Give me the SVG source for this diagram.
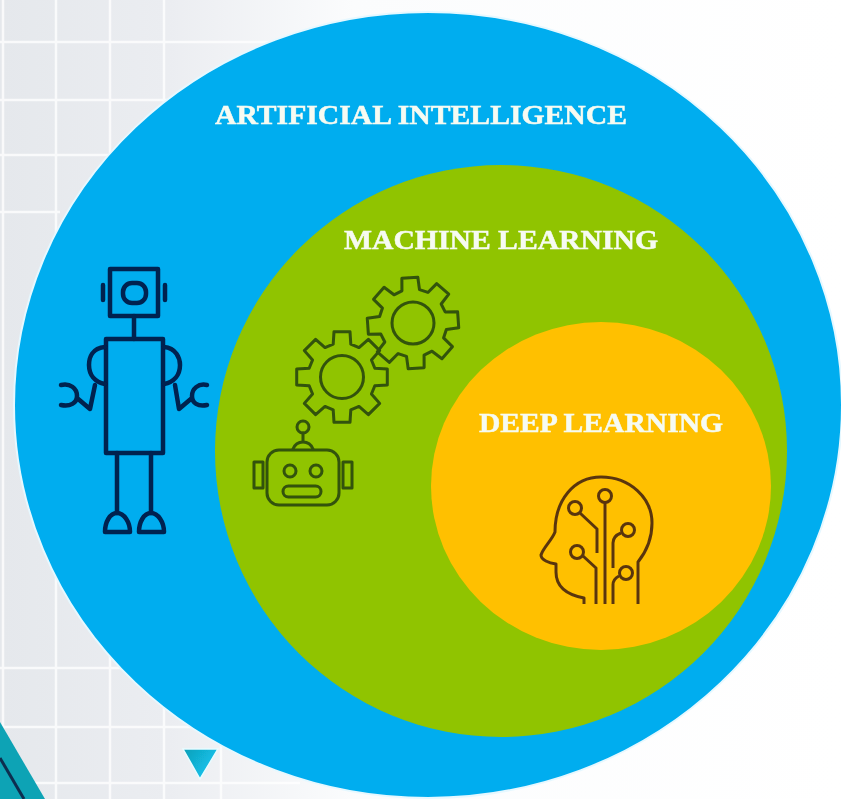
<svg xmlns="http://www.w3.org/2000/svg" xmlns:xlink="http://www.w3.org/1999/xlink" width="841" height="799" viewBox="0 0 841 799">
  <style>
    .title{font-family:"Liberation Serif","Times New Roman",serif;font-weight:700;fill:#f6fbf2;stroke:#f6fbf2;stroke-width:0.5;text-anchor:middle}
    .grid{stroke:#ffffff;stroke-opacity:0.75;stroke-width:2.5;fill:none}
    .bot{fill:none;stroke:#06204f;stroke-width:4.5;stroke-linecap:round;stroke-linejoin:round}
    .ml{fill:none;stroke:#33520a;stroke-width:3;stroke-linecap:round;stroke-linejoin:round}
    .dl{fill:none;stroke:#5a360f;stroke-width:3;stroke-linecap:butt;stroke-linejoin:round}
  </style>
  <defs>
    <linearGradient id="bg" x1="0" y1="0" x2="1" y2="0">
      <stop offset="0" stop-color="#e5e8ec"/>
      <stop offset="0.2" stop-color="#ebedf1"/>
      <stop offset="0.42" stop-color="#fbfcfd"/>
      <stop offset="1" stop-color="#ffffff"/>
    </linearGradient>
    <linearGradient id="tri" x1="0" y1="0" x2="1" y2="0.6">
      <stop offset="0" stop-color="#0f9fb8"/>
      <stop offset="1" stop-color="#14c6f2"/>
    </linearGradient>
    <filter id="soft" x="-5%" y="-5%" width="110%" height="110%"><feGaussianBlur stdDeviation="0.6"/></filter>
    <path id="gear" d="M32.84-8.8L45.3-7.99L45.3 7.99L32.84 8.8L29.44 17L37.68 26.38L26.38 37.68L17 29.44L8.8 32.84L7.99 45.3L-7.99 45.3L-8.8 32.84L-17 29.44L-26.38 37.68L-37.68 26.38L-29.44 17L-32.84 8.8L-45.3 7.99L-45.3-7.99L-32.84-8.8L-29.44-17L-37.68-26.38L-26.38-37.68L-17-29.44L-8.8-32.84L-7.99-45.3L7.99-45.3L8.8-32.84L17-29.44L26.38-37.68L37.68-26.38L29.44-17Z"/>
  </defs>
  <g filter="url(#soft)">
  <g id="background">
    <rect width="841" height="799" fill="url(#bg)"/>
    <path class="grid" d="M3 0V799M56 0V799M110 0V799M164 0V799M221 600V799M0 42H300M0 100H200M0 155H170M0 212H60M0 668H130M0 727H230M0 783H300"/>
    <path d="M0 722L45 799H0Z" fill="#0fa3b5"/>
    <path d="M0 758L24 799" stroke="#0c2f4f" stroke-width="3" fill="none"/>
    <path d="M183 749H218L200 779Z" fill="url(#tri)" stroke="#e9fbff" stroke-width="1.5"/>
  </g>
  <g id="artificial-intelligence">
    <ellipse cx="428" cy="405" rx="414" ry="393" fill="#00adef" stroke="#e6f8ff" stroke-width="2"/>
    <text class="title" x="421" y="124" font-size="28" textLength="412" lengthAdjust="spacingAndGlyphs">ARTIFICIAL INTELLIGENCE</text>
  </g>
  <g id="robot">
    <rect class="bot" x="110" y="269" width="48" height="47"/>
    <rect class="bot" x="123" y="283" width="23" height="20" rx="9"/>
    <path class="bot" d="M103 285V300M165 285V300M134 316V339"/>
    <rect class="bot" x="106" y="339" width="57" height="114"/>
    <path class="bot" d="M105 347C92 348 89 358 89 365C89 375 95 382 105 384M164 347C176 348 180 358 180 365C180 375 174 382 164 384"/>
    <path class="bot" d="M95 385L90 409L77 398M61 385C70 383 77 388 77 396C77 403 70 407 61 405"/>
    <path class="bot" d="M175 385L179 409L192 398M207 385C198 383 192 389 192 396C192 403 198 407 207 405"/>
    <path class="bot" d="M117 453V513M151 453V513"/>
    <path class="bot" d="M105 532C105 522 110 513 117 513C124 513 130 522 130 532ZM139 532C139 522 144 513 151 513C158 513 164 522 164 532Z"/>
  </g>
  <g id="machine-learning">
    <circle cx="501" cy="451" r="286" fill="#90c400"/>
    <text class="title" x="501" y="249" font-size="28" textLength="314" lengthAdjust="spacingAndGlyphs">MACHINE LEARNING</text>
  </g>
  <g id="gears">
    <use xlink:href="#gear" href="#gear" class="ml" transform="translate(342 377)"/>
    <circle class="ml" cx="342" cy="377" r="21.5"/>
    <use xlink:href="#gear" href="#gear" class="ml" transform="translate(413 323) rotate(-4)"/>
    <circle class="ml" cx="413" cy="323" r="21"/>
  </g>
  <g id="small-robot">
    <circle class="ml" cx="303" cy="427" r="6"/>
    <path class="ml" d="M303 433V442M293 449C295 444 299 442 303 442C307 442 311 444 313 449"/>
    <rect class="ml" x="267" y="450" width="72" height="55" rx="12"/>
    <rect class="ml" x="254" y="462" width="9" height="26"/>
    <rect class="ml" x="343" y="462" width="9" height="26"/>
    <circle class="ml" cx="290" cy="471" r="6"/>
    <circle class="ml" cx="316" cy="471" r="6"/>
    <rect class="ml" x="283" y="486" width="38" height="11" rx="5.5"/>
  </g>
  <g id="deep-learning">
    <ellipse cx="601" cy="486" rx="170" ry="164" fill="#ffc000"/>
    <text class="title" x="601" y="432" font-size="28" textLength="244" lengthAdjust="spacingAndGlyphs">DEEP LEARNING</text>
  </g>
  <g id="brain-head">
    <path class="dl" d="M584 604V598C568 595 556 588 556 572V564C549 563 541 560 541 555C543 548 552 540 555 532C555 500 574 477 601 477C630 477 652 498 652 523C652 540 646 552 638 562V604"/>
    <circle class="dl" cx="575" cy="508" r="6.5"/>
    <path class="dl" d="M580 513L597 529V553"/>
    <circle class="dl" cx="605" cy="496" r="6.5"/>
    <path class="dl" d="M605 503V604"/>
    <circle class="dl" cx="628" cy="530" r="6.5"/>
    <path class="dl" d="M621 533C616 535 613 538 613 543V568"/>
    <circle class="dl" cx="577" cy="552" r="6.5"/>
    <path class="dl" d="M583 556L596 568V604"/>
    <circle class="dl" cx="626" cy="573" r="6.5"/>
    <path class="dl" d="M619 576C615 578 613 580 613 585V604"/>
  </g>
  </g>
</svg>
